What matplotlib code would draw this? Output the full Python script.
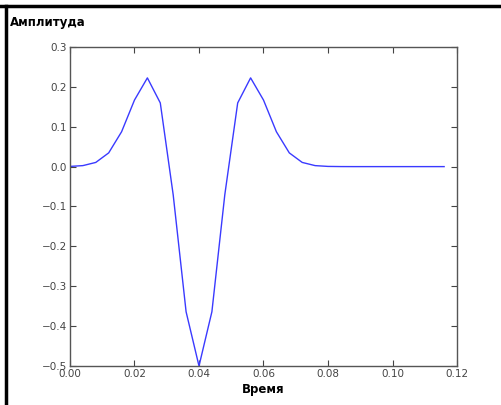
import matplotlib
matplotlib.use('Agg')
import matplotlib.pyplot as plt
from matplotlib.lines import Line2D

# time samples (s) and wavelet amplitude
time = [0.000, 0.004, 0.008, 0.012, 0.016, 0.020, 0.024, 0.028, 0.032, 0.036,
        0.040, 0.044, 0.048, 0.052, 0.056, 0.060, 0.064, 0.068, 0.072, 0.076,
        0.080, 0.084, 0.088, 0.092, 0.096, 0.100, 0.104, 0.108, 0.112, 0.116]
amp = [0.0005, 0.0025, 0.0105, 0.0344, 0.0874, 0.1669, 0.2225, 0.1597, -0.0707, -0.364,
       -0.5, -0.364, -0.0707, 0.1597, 0.2225, 0.1669, 0.0874, 0.0344, 0.0105, 0.0025,
       0.0005, 0.0001, 0.0, 0.0, 0.0, 0.0, 0.0, 0.0, 0.0, 0.0]

xticks = [0.00, 0.02, 0.04, 0.06, 0.08, 0.10, 0.12]
yticks = [-0.5, -0.4, -0.3, -0.2, -0.1, 0.0, 0.1, 0.2, 0.3]

fig = plt.figure(figsize=(5.02, 4.05), dpi=100)
ax = fig.add_axes([0.1394, 0.0963, 0.7710, 0.7877])

ax.plot(time, amp, color='#3a3aff', linewidth=1.0)

ax.set_xlim(0, 0.12)
ax.set_ylim(-0.5, 0.3)
ax.set_xticks(xticks)
ax.set_xticklabels(['%.2f' % v for v in xticks])
ax.set_yticks(yticks)
ax.set_yticklabels([('%.1f' % v).replace('-', '\u2212') for v in yticks])

ax.tick_params(direction='in', top=True, right=True, length=4, width=0.8,
               labelsize=7.5, colors='#444444', pad=2)
for sp in ax.spines.values():
    sp.set_color('#555555')
    sp.set_linewidth(1.0)

ax.set_xlabel('Время', fontsize=8.5, fontweight='bold', labelpad=3)
fig.text(0.02, 0.945, 'Амплитуда', fontsize=8.5, fontweight='bold', ha='left', va='center')

# screenshot frame: top and left borders
fig.add_artist(Line2D([0, 1], [1 - 6 / 405, 1 - 6 / 405], transform=fig.transFigure,
                      color='black', linewidth=2.5))
fig.add_artist(Line2D([6 / 502, 6 / 502], [0, 1 - 6 / 405], transform=fig.transFigure,
                      color='black', linewidth=2.5))

fig.savefig('out.png', dpi=100)
